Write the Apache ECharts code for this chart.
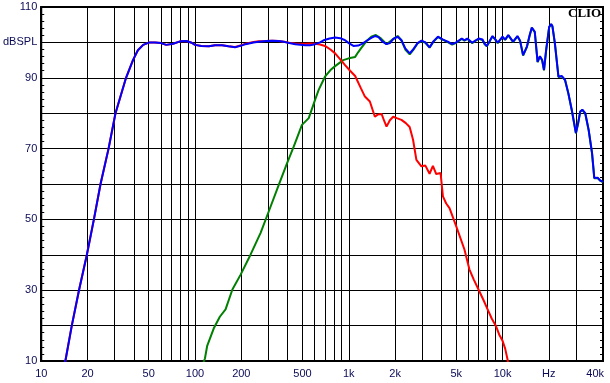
<!DOCTYPE html>
<html><head><meta charset="utf-8">
<script src="https://cdn.jsdelivr.net/npm/echarts@6/dist/echarts.min.js"></script>
<style>html,body{margin:0;padding:0;background:#fff}#c{width:610px;height:383px}</style>
</head><body><div id="c"></div>
<script>
// Vertical grid frequencies (Hz)
const gridFreqs = [10,20,30,40,50,60,70,80,90,100,200,300,400,500,600,700,800,900,
  1000,2000,3000,4000,5000,6000,7000,8000,9000,10000,20000,30000];
// X tick labels
const xLabelFreqs = [10,20,50,100,200,500,1000,2000,5000,10000,20000,40000];
const xLabelTexts = ['10','20','50','100','200','500','1k','2k','5k','10k','Hz','40k'];
// Y tick labels
const yLabelValues = [10,30,50,70,90,100,110];
const yLabelTexts = ['10','30','50','70','90','dBSPL','110'];

// Blue: total response
const blueFreq = [14.0,14.35,15.8,17.6,19.8,22,24.3,27.4,30.4,35.6,39.5,42.5,46,50.5,
  55,60,65,72,80,88,95,100,110,123,135,150,165,182,200,213,240,260,290,318,350,378,410,449,521,560,605,650,686,750,815,880,946,
  1000,1072,1150,1220,1300,1400,1480,1560,1650,1760,1850,1950,2080,2200,2330,2490,2620,2800,2970,3150,3350,3550,3800,4100,4400,4700,5000,5430,5650,5900,6340,6650,7000,7400,7650,7900,8200,8600,9000,9300,9650,
  10000,10400,10900,11700,12500,13000,13600,14400,15000,15500,16200,16900,17500,18100,18600,19200,20100,20700,21100,21900,23100,24300,25500,26800,28200,30000,31000,32000,33000,34500,36300,38200,39500,40500,41500,43200,45000];
const blueDb = [7,10,20,30,40,50,60,70,80,90,95,97.8,99.3,100,
  100.0,99.8,99.3,99.6,100.3,100.4,99.9,99.3,99.0,98.9,99.2,99.2,98.9,98.6,99.1,99.5,100.0,100.2,100.4,100.5,100.4,100.2,99.8,99.5,99.2,99.2,99.5,100.0,100.6,101.1,101.4,101.2,100.6,
  99.8,99.0,99.1,99.6,100.4,101.3,101.8,101.5,100.3,99.5,99.8,101.0,101.6,100.6,98.3,96.9,98.0,99.8,100.5,100.0,98.6,100.3,101.6,100.8,100.2,99.5,100.0,101.1,100.6,101.1,99.9,100.5,101.1,100.8,99.6,99.0,100.2,101.8,100.8,99.9,100.8,
  101.6,100.8,102.1,100.2,101.8,100.5,96.4,98.8,102.0,104.2,103.0,94.5,96.1,95.0,92.2,97.8,104.4,105.2,104.6,99.7,90.3,90.5,89.4,85.6,80.9,74.4,77.2,80.5,81.0,80.0,75.3,68.7,61.7,62.0,61.8,61.0,60.6];

// Red: woofer (low-pass)
const redFreq = [14.0,14.35,15.8,17.6,19.8,22,24.3,27.4,30.4,35.6,39.5,42.5,46,50.5,
  55,60,65,72,80,88,95,100,110,123,135,150,165,182,200,213,240,260,290,318,350,378,410,449,521,560,605,650,700,760,815,880,946,
  1020,1100,1200,1273,1371,1478,1540,1634,1700,1760,1850,1944,2050,2200,2350,2488,2618,2752,2966,3150,3240,3352,3524,3703,3954,4095,4300,4519,4993,5651,6085,6500,6890,7500,7996,8500,9053,9500,10000,10400,10770,11000];
const redDb = [7,10,20,30,40,50,60,70,80,90,95,97.8,99.3,100,
  100.0,99.8,99.3,99.6,100.3,100.4,99.9,99.3,99.0,98.9,99.2,99.2,98.9,98.7,99.2,99.6,100.1,100.3,100.4,100.5,100.4,100.2,99.9,99.7,99.6,99.7,99.6,99.4,99.0,98.0,96.9,95.2,93.6,
  92.0,90.5,87.0,84.7,83.3,79.0,79.6,79.8,77.8,76.2,78.0,79.0,78.6,78.1,77.2,76.1,72.5,66.8,65.0,65.2,65.4,62.9,65.1,62.8,63.1,56.5,54.5,53.2,48.1,41.5,35.9,33.0,30.7,27.3,24.6,22.0,19.9,17.5,15.7,13.5,10.5,8];

// Green: tweeter (high-pass)
const greenFreq = [110,116,120,133,145,158,175,198,230,267,302,351,397,439,496,549,605,637,700,760,815,920,1000,1100,1150,1200,1300,1400,1500,1600,1760,1950,2080,2200,2330,2490,2620,
  2800,2970,3150,3350,3550,3800,4100,4400,4700,5000,5430,5650,5900,6340,6650,7000,7400,7650,7900,8200,8600,9000,9300,9650,
  10000,10400,10900,11700,12500,13000,13600,14400,15000,15500,16200,16900,17500,18100,18600,19200,20100,20700,21100,21900,23100,24300,25500,26800,28200,30000,31000,32000,33000,34500,36300,38200,39500,40500,41500,43200,45000];
const greenDb = [8,10.7,14.3,19.4,22.5,24.6,30.2,34.4,40.1,46.2,52.3,59.8,65.9,70.6,76.7,78.6,83.9,86.6,90.3,92.2,93.3,95.0,95.5,95.9,97.2,98.3,100.3,101.6,102.1,101.3,99.5,101.0,101.8,100.6,98.0,96.6,97.8,
  99.7,100.4,99.9,98.5,100.2,101.5,100.7,100.1,99.4,99.9,101.0,100.5,101.0,99.8,100.4,101.0,100.7,99.5,98.9,100.1,101.7,100.7,99.8,100.7,
  101.5,100.7,102.0,100.1,101.7,100.4,96.3,98.7,101.9,104.1,102.9,94.4,96.0,94.9,92.1,97.7,104.3,105.1,104.5,99.6,90.2,90.4,89.3,85.5,80.8,74.3,77.1,80.4,80.9,79.9,75.2,68.6,61.6,61.9,61.7,60.9,60.5];

const pairs = (fs, ds) => fs.map((f, i) => [f, ds[i]]);
const txtColor = '#0a0a55';
const fontFamily = 'Liberation Sans, Arial, sans-serif';

const chart = echarts.init(document.getElementById('c'), null, {renderer: 'canvas'});
chart.setOption({
  animation: false,
  backgroundColor: '#fff',
  grid: {left: 37, right: 7, top: 7, bottom: 22, show: true, borderColor: '#000', borderWidth: 2, backgroundColor: 'transparent'},
  xAxis: {
    type: 'log', logBase: 10, min: 10, max: 45000,
    axisLine: {show: true, onZero: false, lineStyle: {color: '#000', width: 2}},
    axisTick: {show: false, customValues: gridFreqs},
    minorTick: {show: false},
    splitLine: {show: true, lineStyle: {color: '#000', width: 1}},
    axisLabel: {
      customValues: xLabelFreqs,
      formatter: v => { const i = xLabelFreqs.findIndex(f => Math.abs(f - v) / f < 1e-6); return i >= 0 ? xLabelTexts[i] : ''; },
      color: txtColor, fontSize: 11, fontFamily, margin: 7, showMinLabel: true, showMaxLabel: true,
      alignMinLabel: 'center', alignMaxLabel: 'center'
    }
  },
  yAxis: [{
    type: 'value', min: 10, max: 110, interval: 10, position: 'left',
    axisLine: {show: true, lineStyle: {color: '#000', width: 2}},
    axisTick: {show: true, inside: true, length: 4, lineStyle: {color: '#000'}},
    minorTick: {show: true, splitNumber: 5, length: 3, lineStyle: {color: '#000'}},
    splitLine: {show: true, lineStyle: {color: '#000', width: 1}},
    axisLabel: {
      formatter: v => { const i = yLabelValues.indexOf(v); return i >= 0 ? yLabelTexts[i] : ''; },
      color: txtColor, fontSize: 11, fontFamily, margin: 4
    }
  }, {
    type: 'value', min: 10, max: 110, interval: 10, position: 'right',
    axisLine: {show: true, lineStyle: {color: '#000', width: 2}},
    axisTick: {show: true, inside: true, length: 4, lineStyle: {color: '#000'}},
    minorTick: {show: true, splitNumber: 5, length: 3, lineStyle: {color: '#000'}},
    splitLine: {show: false},
    axisLabel: {show: false}
  }],
  graphic: [{
    type: 'text', left: 568, top: 7,
    style: {text: 'CLIO', font: 'bold 13px "Liberation Serif", "Times New Roman", serif', fill: '#000'}
  }],
  series: [
    {name: 'tweeter', type: 'line', data: pairs(greenFreq, greenDb), showSymbol: false, clip: true,
      lineStyle: {color: '#008000', width: 2}, itemStyle: {color: '#008000'}, z: 2},
    {name: 'woofer', type: 'line', data: pairs(redFreq, redDb), showSymbol: false, clip: true,
      lineStyle: {color: '#ff0000', width: 2}, itemStyle: {color: '#ff0000'}, z: 3},
    {name: 'total', type: 'line', data: pairs(blueFreq, blueDb), showSymbol: false, clip: true,
      lineStyle: {color: '#0000ff', width: 2}, itemStyle: {color: '#0000ff'}, z: 4}
  ]
});
</script></body></html>
